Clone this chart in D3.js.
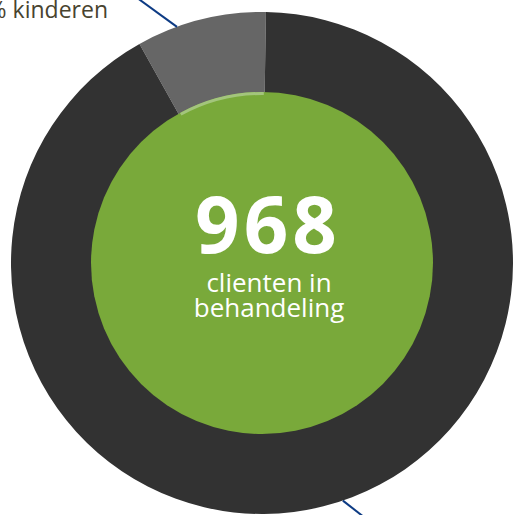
<!DOCTYPE html>
<html>
<head>
<meta charset="utf-8">
<script src="https://cdn.jsdelivr.net/npm/d3@7"></script>
<style>
  html, body { margin: 0; padding: 0; background: #fff; overflow: hidden; }
  svg { display: block; }
</style>
</head>
<body>
<svg id="chart" width="513" height="515"></svg>
<script>
// Data
const categories = ["kinderen", "volwassenen"];
const values = [81, 887];
const total = 968;
const centerTitle = "968";
const centerLines = ["clienten in", "behandeling"];
const labelText = "8% kinderen";

const svg = d3.select("#chart");
const cx = 262, cy = 263;
const outerR = 251, innerR = 171;
const startOffset = 0.9 * Math.PI / 180;

const colors = d3.scaleOrdinal().domain(categories).range(["#666666", "#323232"]);

const share0 = values[0] / d3.sum(values);
const pie = d3.pie().sort(null).value(d => d)
  .startAngle(startOffset - 2 * Math.PI * share0)
  .endAngle(startOffset - 2 * Math.PI * share0 + 2 * Math.PI);
const arcs = pie(values);

const g = svg.append("g").attr("transform", `translate(${cx},${cy})`);
const arc = d3.arc().innerRadius(innerR - 5).outerRadius(outerR);

g.selectAll("path.slice").data(arcs).enter().append("path")
  .attr("class", "slice")
  .attr("d", arc)
  .attr("fill", (d, i) => colors(categories[i]));

// green centre
g.append("circle").attr("r", innerR).attr("fill", "#79a93a");

// subtle highlight under the grey slice
g.append("path")
  .attr("d", d3.arc().innerRadius(innerR - 3).outerRadius(innerR)({startAngle: arcs[0].startAngle + 0.01, endAngle: arcs[0].endAngle - 0.005}))
  .attr("fill", "#a3c57c");

// centre text
const font = "'Open Sans', 'Noto Sans', sans-serif";
g.append("text")
  .attr("x", 4).attr("y", -10)
  .attr("text-anchor", "middle")
  .attr("font-family", font)
  .attr("font-weight", 700)
  .attr("font-size", 78)
  .attr("letter-spacing", 4)
  .attr("dx", 2)
  .attr("fill", "#ffffff")
  .text(centerTitle);

centerLines.forEach((t, i) => {
  g.append("text")
    .attr("x", 7).attr("y", 29 + i * 25)
    .attr("text-anchor", "middle")
    .attr("font-family", font)
    .attr("font-size", 26)
    .attr("fill", "#ffffff")
    .text(t);
});

// leader lines
function leader(angleDeg, dir, lenIn, lenOut) {
  const a = angleDeg * Math.PI / 180;
  const px = cx + outerR * Math.sin(a), py = cy - outerR * Math.cos(a);
  const dx = Math.cos(dir * Math.PI / 180), dy = Math.sin(dir * Math.PI / 180);
  svg.append("line")
    .attr("x1", px - dx * lenIn).attr("y1", py - dy * lenIn)
    .attr("x2", px + dx * lenOut).attr("y2", py + dy * lenOut)
    .attr("stroke", "#0d3b84").attr("stroke-width", 2);
}
leader(-19.8, 216, 0, 70);
leader(161.2, 38, 0, 40);

// label
svg.append("text")
  .attr("x", 108).attr("y", 18)
  .attr("text-anchor", "end")
  .attr("font-family", font)
  .attr("font-size", 23)
  .attr("fill", "#48432f")
  .text(labelText);
</script>
</body>
</html>
